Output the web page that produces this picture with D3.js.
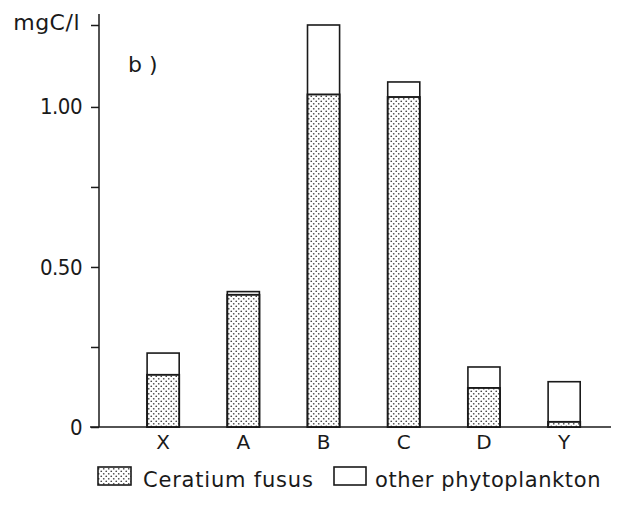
<!DOCTYPE html>
<html><head><meta charset="utf-8">
<script src="https://cdn.jsdelivr.net/npm/d3@7"></script>
<style>html,body{margin:0;padding:0;background:#fff}svg{display:block}</style>
</head><body>
<script>
const categories = ["X", "A", "B", "C", "D", "Y"];
const ceratium = [0.163, 0.413, 1.039, 1.031, 0.122, 0.016];
const total = [0.231, 0.423, 1.256, 1.078, 0.1875, 0.1415];
const tickValues = [0, 0.25, 0.5, 0.75, 1.0, 1.256];
const tickLabels = {0: "0", 0.5: "0.50", 1.0: "1.00"};
const legendLabels = ["Ceratium fusus", "other phytoplankton"];

const W = 618, H = 512;
const svg = d3.select("body").append("svg").attr("width", W).attr("height", H);
const defs = svg.append("defs");
const pat = defs.append("pattern").attr("id", "stip").attr("patternUnits", "userSpaceOnUse")
  .attr("width", 5).attr("height", 5);
pat.append("rect").attr("width", 5).attr("height", 5).attr("fill", "#fff");
pat.append("circle").attr("cx", 1.25).attr("cy", 1.25).attr("r", 0.85).attr("fill", "#444");
pat.append("circle").attr("cx", 3.75).attr("cy", 3.75).attr("r", 0.85).attr("fill", "#444");

const y = d3.scaleLinear().domain([0, 1.256]).range([427, 25]);
const x = d3.scaleBand().domain(categories).range([107, 620.3]).paddingInner(0.6).paddingOuter(0.5);
const font = "'DejaVu Sans', sans-serif";
const condensed = "'DejaVu Sans Condensed', 'DejaVu Sans', sans-serif";
const ink = "#1a1a1a";

// baseline
svg.append("line").attr("x1", 90).attr("x2", 611).attr("y1", y(0)).attr("y2", y(0))
  .attr("stroke", ink).attr("stroke-width", 1.4);

// y axis
const axisX = 99;
svg.append("line").attr("x1", axisX).attr("x2", axisX).attr("y1", y(1.29)).attr("y2", y(0))
  .attr("stroke", ink).attr("stroke-width", 1.5);
const ax = d3.axisLeft(y).tickValues(tickValues).tickSize(8).tickFormat(d => tickLabels[d] || "");
const g = svg.append("g").attr("transform", `translate(${axisX},0)`).call(ax);
g.select(".domain").remove();
g.selectAll(".tick line").attr("stroke", ink).attr("stroke-width", 1.5);
g.selectAll(".tick text").attr("font-family", condensed).attr("font-size", 22).attr("fill", ink)
  .attr("x", -17).attr("letter-spacing", -0.5);
svg.append("text").attr("x", 80).attr("y", 30).attr("text-anchor", "end")
  .attr("font-family", font).attr("font-size", 22).attr("fill", ink).attr("letter-spacing", 0.5).text("mgC/l");
svg.append("text").attr("x", 128).attr("y", 72).attr("font-family", font).attr("font-size", 22)
  .attr("fill", ink).text("b )");

// bars
const bars = svg.append("g");
categories.forEach((c, i) => {
  bars.append("rect").attr("x", x(c)).attr("width", x.bandwidth())
    .attr("y", y(total[i])).attr("height", y(0) - y(total[i]))
    .attr("fill", "#fff").attr("stroke", ink).attr("stroke-width", 1.6);
  bars.append("rect").attr("x", x(c)).attr("width", x.bandwidth())
    .attr("y", y(ceratium[i])).attr("height", y(0) - y(ceratium[i]))
    .attr("fill", "url(#stip)").attr("stroke", ink).attr("stroke-width", 1.9);
  svg.append("text").attr("x", x(c) + x.bandwidth() / 2).attr("y", 449).attr("text-anchor", "middle")
    .attr("font-family", font).attr("font-size", 20).attr("fill", ink).text(c);
});

// legend
const lg = svg.append("g");
lg.append("rect").attr("x", 98).attr("y", 467).attr("width", 33).attr("height", 18)
  .attr("fill", "url(#stip)").attr("stroke", ink).attr("stroke-width", 1.6);
lg.append("text").attr("x", 143).attr("y", 487).attr("font-family", font).attr("font-size", 21)
  .attr("fill", ink).attr("letter-spacing", 0.8).text(legendLabels[0]);
lg.append("rect").attr("x", 334).attr("y", 467).attr("width", 32).attr("height", 18)
  .attr("fill", "#fff").attr("stroke", ink).attr("stroke-width", 1.6);
lg.append("text").attr("x", 375).attr("y", 487).attr("font-family", font).attr("font-size", 21)
  .attr("fill", ink).attr("letter-spacing", 0.6).text(legendLabels[1]);
</script>
</body></html>
